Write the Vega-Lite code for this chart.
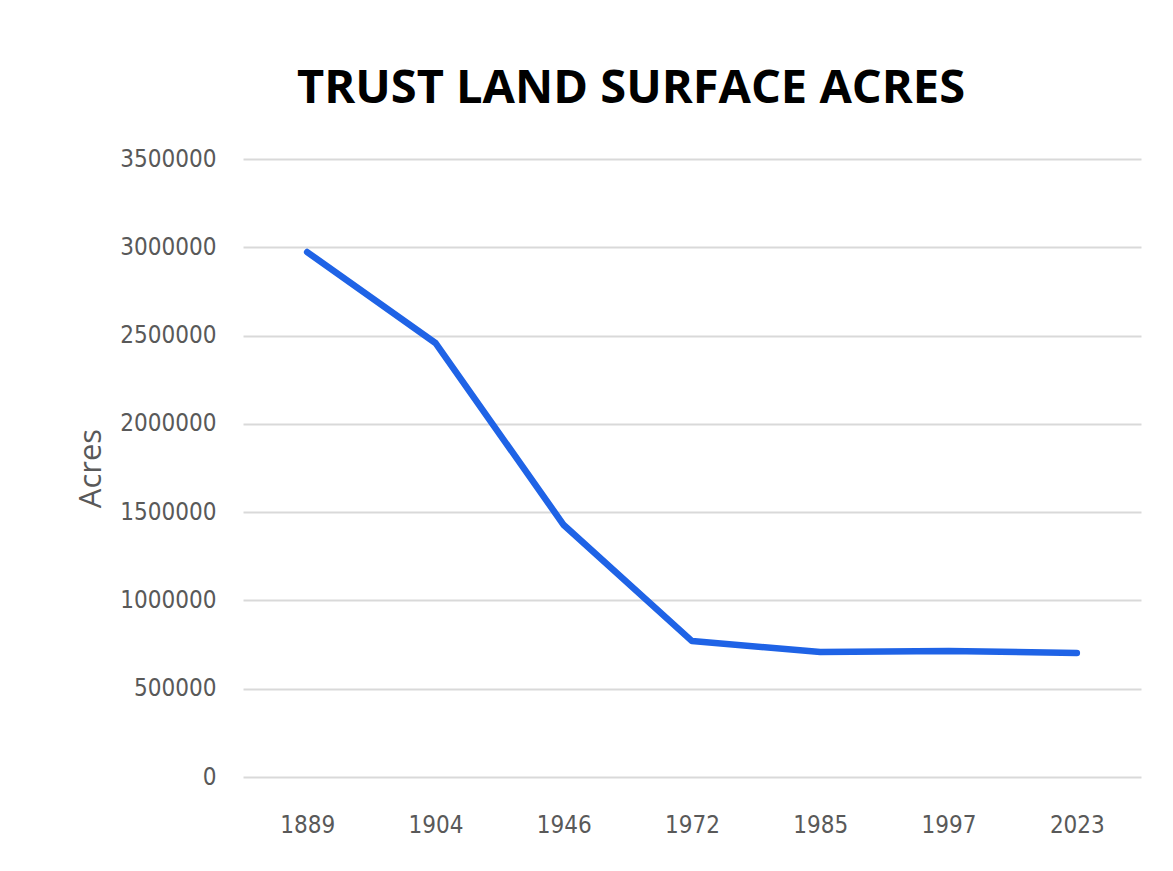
{
  "$schema": "https://vega.github.io/schema/vega-lite/v6.json",
  "autosize": {"type": "none"},
  "width": 898,
  "height": 618,
  "padding": {"left": 243, "top": 159, "right": 32, "bottom": 94},
  "background": "white",
  "title": {
    "text": "TRUST LAND SURFACE ACRES",
    "font": "Open Sans",
    "fontSize": 47,
    "fontWeight": "bold",
    "color": "black",
    "anchor": "middle",
    "dx": -61,
    "offset": 34
  },
  "data": {
    "values": [
      {"year": "1889", "acres": 2973000},
      {"year": "1904", "acres": 2458000},
      {"year": "1946", "acres": 1427000},
      {"year": "1972", "acres": 770000},
      {"year": "1985", "acres": 708000},
      {"year": "1997", "acres": 714000},
      {"year": "2023", "acres": 702000}
    ]
  },
  "mark": {"type": "line", "color": "#1f63e6", "strokeWidth": 6.5, "strokeCap": "round", "strokeJoin": "round"},
  "encoding": {
    "x": {
      "field": "year",
      "type": "ordinal",
      "sort": null,
      "scale": {"type": "point", "padding": 0.5},
      "axis": {
        "title": null,
        "labelAngle": 0,
        "domain": false,
        "ticks": false,
        "grid": false,
        "labelFont": "DejaVu Sans Condensed",
        "labelFontSize": 24,
        "labelColor": "#595959",
        "labelPadding": 36
      }
    },
    "y": {
      "field": "acres",
      "type": "quantitative",
      "scale": {"domain": [0, 3500000], "nice": false},
      "axis": {
        "values": [0, 500000, 1000000, 1500000, 2000000, 2500000, 3000000, 3500000],
        "format": "d",
        "title": "Acres",
        "titleFont": "Open Sans",
        "titleFontSize": 31,
        "titleFontWeight": "normal",
        "titleColor": "#595959",
        "titlePadding": 12,
        "domain": false,
        "ticks": false,
        "grid": true,
        "gridColor": "#d9d9d9",
        "gridWidth": 2,
        "labelFont": "DejaVu Sans Condensed",
        "labelFontSize": 24,
        "labelColor": "#595959",
        "labelPadding": 27
      }
    }
  },
  "config": {"view": {"stroke": null}}
}
